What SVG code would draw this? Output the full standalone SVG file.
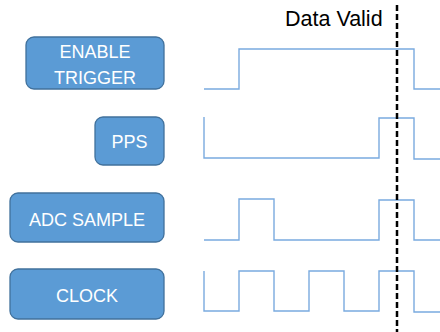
<svg xmlns="http://www.w3.org/2000/svg" width="440" height="332" viewBox="0 0 440 332">
<style>
.box{fill:#5b9bd5;stroke:#41719c;stroke-width:1.3}
.lbl{font-family:"Liberation Sans",Arial,sans-serif;font-size:18px;fill:#fff;text-anchor:middle}
.wave{fill:none;stroke:#7aaadf;stroke-width:1.4}
</style>
<rect width="440" height="332" fill="#fff"/>
<g id="enable-trigger">
<rect class="box" x="26" y="37" width="138" height="52" rx="8"/>
<text class="lbl" x="95" y="58">ENABLE</text>
<text class="lbl" x="95" y="84">TRIGGER</text>
</g>
<g id="pps">
<rect class="box" x="95" y="117" width="69" height="48" rx="8"/>
<text class="lbl" x="129.5" y="148">PPS</text>
</g>
<g id="adc-sample">
<rect class="box" x="10" y="193" width="154" height="49" rx="8"/>
<text class="lbl" x="87" y="226">ADC SAMPLE</text>
</g>
<g id="clock">
<rect class="box" x="10" y="269" width="154" height="50" rx="8"/>
<text class="lbl" x="87" y="302">CLOCK</text>
</g>
<g id="waveforms">
<polyline class="wave" points="204,89 239,89 239,49 414,49 414,89 440,89"/>
<polyline class="wave" points="204,117 204,158 379,158 379,118 414,118 414,159 440,159"/>
<polyline class="wave" points="204,240 239,240 239,199 274,199 274,240 379,240 379,200 414,200 414,240 440,240"/>
<polyline class="wave" points="204,271 204,311 239,311 239,271 274,271 274,311 309,311 309,271 344,271 344,311 379,311 379,271 414,271 414,312 440,312"/>
</g>
<g id="data-valid">
<line x1="397" y1="5" x2="397" y2="332" stroke="#000" stroke-width="2.5" stroke-dasharray="6,3"/>
<text x="285" y="26" font-family="'Liberation Sans',Arial,sans-serif" font-size="21.5" fill="#000">Data Valid</text>
</g>
</svg>
